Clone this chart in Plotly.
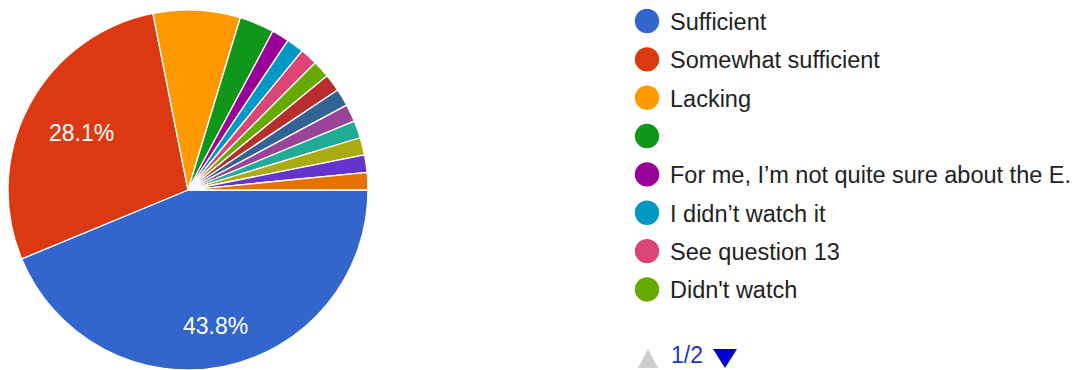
import math
import plotly.graph_objects as go

# Survey responses (64 in total), in answer order
labels = [
    "Sufficient", "Somewhat sufficient", "Lacking", "",
    "For me, I\u2019m not quite sure about the E.", "I didn\u2019t watch it",
    "See question 13", "Didn't watch",
    "Answer 9", "Answer 10", "Answer 11", "Answer 12",
    "Answer 13", "Answer 14", "Answer 15",
]
counts = [28, 18, 5, 2, 1, 1, 1, 1, 1, 1, 1, 1, 1, 1, 1]
colors = [
    "#3366cc", "#dc3912", "#ff9900", "#109618", "#990099", "#0099c6",
    "#dd4477", "#66aa00", "#b82e2e", "#316395", "#994499", "#22aa99",
    "#aaaa11", "#6633cc", "#e67300",
]
legend_page = "1/2"
legend_rows = 8

W, H = 1083, 370
FONT = "Arial, Liberation Sans, sans-serif"

# pie placement in pixels (left, top, size)
PIE_L, PIE_T, PIE_D = 8, 10, 360
CX, CY, R = PIE_L + PIE_D / 2, PIE_T + PIE_D / 2, PIE_D / 2
START = 90  # first slice begins at 3 o'clock, going clockwise

fig = go.Figure(go.Pie(
    labels=labels,
    values=counts,
    sort=False,
    direction="clockwise",
    rotation=START,
    marker=dict(colors=colors, line=dict(color="white", width=1.3)),
    textinfo="none",
    hoverinfo="none",
    showlegend=False,
    domain=dict(x=[PIE_L / W, (PIE_L + PIE_D) / W],
                y=[1 - (PIE_T + PIE_D) / H, 1 - PIE_T / H]),
))


def px(x):
    return x / W


def py(y):
    return 1 - y / H


shapes = []
annotations = []

# percentage labels on slices above 10%, kept inside the slice rim
total = sum(counts)
cum = 0
half_w, half_h = 33, 10
for c in counts:
    share = c / total
    if share > 0.1:
        a = math.radians(START + 360 * (cum + c / 2) / total)
        dx, dy = math.sin(a), -math.cos(a)
        r = 0.86 * R - (abs(dx) * half_w + abs(dy) * half_h)
        annotations.append(dict(
            text=f"{share:.1%}", xref="paper", yref="paper",
            x=px(CX + r * dx), y=py(CY + r * dy),
            xanchor="center", yanchor="middle", showarrow=False,
            font=dict(size=23, color="white", family=FONT),
        ))
    cum += c

# legend (first page)
row0, step = 21, 38.35
lx, rad = 647, 12.2
for i in range(legend_rows):
    cy = row0 + step * i
    shapes.append(dict(
        type="circle", xref="paper", yref="paper",
        x0=px(lx - rad), x1=px(lx + rad), y0=py(cy + rad), y1=py(cy - rad),
        fillcolor=colors[i], line=dict(width=0),
    ))
    annotations.append(dict(
        text=labels[i], xref="paper", yref="paper",
        x=px(668), y=py(cy + 1), xanchor="left", yanchor="middle",
        showarrow=False, font=dict(size=23.5, color="#222222", family=FONT),
    ))

# pager: previous (disabled), page number, next
shapes.append(dict(
    type="path", xref="paper", yref="paper",
    path=f"M {px(638)} {py(368)} L {px(658)} {py(368)} L {px(648)} {py(349)} Z",
    fillcolor="#cccccc", line=dict(width=0),
))
shapes.append(dict(
    type="path", xref="paper", yref="paper",
    path=f"M {px(713)} {py(349)} L {px(737)} {py(349)} L {px(725)} {py(368)} Z",
    fillcolor="#0000cc", line=dict(width=0),
))
annotations.append(dict(
    text=legend_page, xref="paper", yref="paper",
    x=px(669), y=py(370), xanchor="left", yanchor="bottom",
    showarrow=False, font=dict(size=23, color="#2233cc", family=FONT),
))

fig.update_layout(
    width=W, height=H,
    margin=dict(l=0, r=0, t=0, b=0),
    paper_bgcolor="white", plot_bgcolor="white",
    shapes=shapes, annotations=annotations,
)

fig.write_html("out.html")
